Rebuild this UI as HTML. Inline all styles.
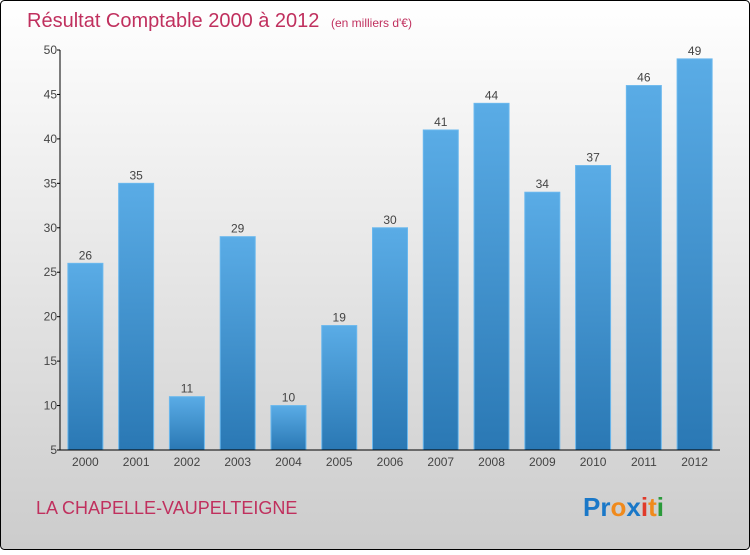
<!DOCTYPE html>
<html><head><meta charset="utf-8"><style>
body{margin:0;width:750px;height:550px;overflow:hidden;font-family:"Liberation Sans",sans-serif}
</style></head><body>
<svg id="c" width="750" height="550" xmlns="http://www.w3.org/2000/svg">
<defs>
<linearGradient id="bg" x1="0" y1="0" x2="0" y2="1"><stop offset="0" stop-color="#ffffff"/><stop offset="1" stop-color="#cccccc"/></linearGradient>
<linearGradient id="bar" x1="0" y1="0" x2="0" y2="1"><stop offset="0" stop-color="#5aace6"/><stop offset="1" stop-color="#2a78b4"/></linearGradient>
</defs>
<rect x="0.5" y="0.5" width="749" height="549" rx="4" fill="url(#bg)" stroke="#000"/>
<text x="27" y="27" font-size="20" fill="#c0305e">Résultat Comptable 2000 à 2012 <tspan font-size="12" dx="6">(en milliers d'€)</tspan></text>
<g id="bars"></g>
<g id="axes"></g>
<text x="36" y="514" font-size="18" fill="#c0305e">LA CHAPELLE-VAUPELTEIGNE</text>
<text x="583" y="516" font-size="26" font-weight="bold"><tspan fill="#1a78c8">Pr</tspan><tspan fill="#f08a1c">o</tspan><tspan fill="#1a78c8">x</tspan><tspan fill="#e03a2a">i</tspan><tspan fill="#f08a1c">t</tspan><tspan fill="#2a9a3a">i</tspan></text>
</svg>
<script>
const categories=["2000","2001","2002","2003","2004","2005","2006","2007","2008","2009","2010","2011","2012"];
const values=[26,35,11,29,10,19,30,41,44,34,37,46,49];
const yTicks=[5,10,15,20,25,30,35,40,45,50];
const NS="http://www.w3.org/2000/svg";
const x0=60,x1=720,yTop=50,yBot=450,vMin=5,vMax=50;
const band=(x1-x0)/categories.length;
const y=v=>yBot-(v-vMin)/(vMax-vMin)*(yBot-yTop);
const xc=i=>x0+band*(i+0.5);
function mk(t,a,p){const e=document.createElementNS(NS,t);for(const k in a)e.setAttribute(k,a[k]);p.appendChild(e);return e;}
const gb=document.getElementById('bars'),ga=document.getElementById('axes');
values.forEach((v,i)=>{
 const r=mk('rect',{x:xc(i)-17.5,y:y(v),width:35,height:yBot-y(v),fill:'url(#bar)',stroke:'#6ab8ee','stroke-width':1},gb);
 
 
 const t=mk('text',{x:xc(i),y:y(v)-4,'text-anchor':'middle','font-size':12,fill:'#444'},gb);
 t.textContent=v;
 
 
 const c=mk('text',{x:xc(i),y:466,'text-anchor':'middle','font-size':12,fill:'#444'},ga);
 c.textContent=categories[i];
 
 
});
const ya=mk('line',{x1:x0,y1:yTop,x2:x0,y2:yBot,stroke:'#000'},ga);


const xa=mk('line',{x1:x0,y1:yBot,x2:x1,y2:yBot,stroke:'#000'},ga);


yTicks.forEach(v=>{
 mk('line',{x1:x0-3,y1:y(v),x2:x0,y2:y(v),stroke:'#000'},ga);
 const t=mk('text',{x:x0-3,y:y(v)+4,'text-anchor':'end','font-size':12,fill:'#444'},ga);
 t.textContent=v;
 
 
});
</script>
</body></html>
